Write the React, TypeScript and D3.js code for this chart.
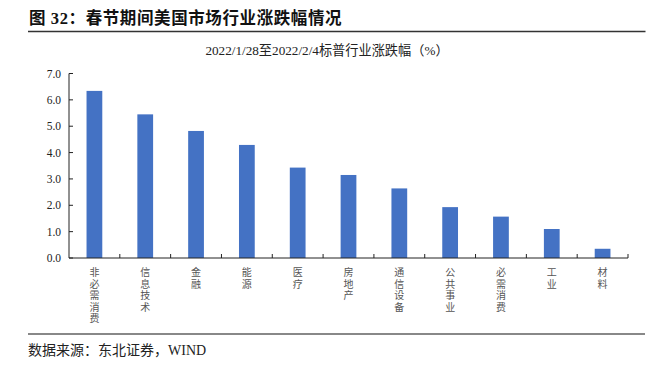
import React from "react";
import * as d3 from "d3";

const categories = ["非必需消费", "信息技术", "金融", "能源", "医疗", "房地产", "通信设备", "公共事业", "必需消费", "工业", "材料"];
const values = [6.34, 5.45, 4.82, 4.29, 3.43, 3.15, 2.64, 1.93, 1.57, 1.1, 0.35];
const yTicks = [0, 1, 2, 3, 4, 5, 6, 7];
const subtitle = "2022/1/28至2022/2/4标普行业涨跌幅（%）";
const source = "数据来源：东北证券，WIND";

const W = 657, H = 369;
const plot = { left: 69, right: 628, top: 73.5, bottom: 258 };
const serif = "'Liberation Serif', 'Times New Roman', 'Noto Sans CJK SC', serif";

export default function App() {
  const x = d3.scaleBand<string>().domain(categories).range([plot.left, plot.right]).paddingInner(0.69).paddingOuter(0.345);
  const y = d3.scaleLinear().domain([0, 7]).range([plot.bottom, plot.top]);
  const step = x.step();
  return (
    <svg width={W} height={H} style={{ position: "absolute", left: 0, top: 0, background: "#fff" }}>
      <text x={29} y={24} fontFamily={serif} fontWeight="bold" fontSize={16.5} letterSpacing={0.6} fill="#111">
        <tspan>图 </tspan><tspan>32</tspan><tspan>：春节期间美国市场行业涨跌幅情况</tspan>
      </text>
      <line x1={28} x2={645.5} y1={31.5} y2={31.5} stroke="#333" strokeWidth={1.5} />
      <text x={327} y={55} textAnchor="middle" fontFamily={serif} fontSize={13.2} fill="#222">{subtitle}</text>
      {values.map((v, i) => (
        <rect key={i} x={x(categories[i])!} y={y(v)} width={x.bandwidth()} height={y(0) - y(v)} fill="#4472C4" />
      ))}
      <line x1={plot.left} x2={plot.left} y1={plot.top} y2={plot.bottom} stroke="#222" strokeWidth={1} />
      <line x1={plot.left} x2={plot.right} y1={plot.bottom} y2={plot.bottom} stroke="#222" strokeWidth={1} />
      {yTicks.map((t) => (
        <g key={t}>
          <line x1={plot.left} x2={plot.left + 4} y1={y(t)} y2={y(t)} stroke="#222" />
          <text x={61} y={y(t) + 4} textAnchor="end" fontFamily={serif} fontSize={11.5} fill="#222">{t.toFixed(1)}</text>
        </g>
      ))}
      {categories.map((c, i) => (
        <line key={c} x1={plot.left + step * (i + 1)} x2={plot.left + step * (i + 1)} y1={plot.bottom} y2={plot.bottom - 4} stroke="#222" />
      ))}
      {categories.map((c) => (
        <text key={c} textAnchor="middle" fontFamily={serif} fontSize={10} fill="#555">
          {Array.from(c).map((ch, j) => (
            <tspan key={j} x={x(c)! + x.bandwidth() / 2} y={276 + j * 11.6}>{ch}</tspan>
          ))}
        </text>
      ))}
      <line x1={28} x2={645} y1={334} y2={334} stroke="#888" strokeWidth={2} />
      <text x={28} y={355} fontFamily={serif} fontSize={14} fill="#222">{source}</text>
    </svg>
  );
}
